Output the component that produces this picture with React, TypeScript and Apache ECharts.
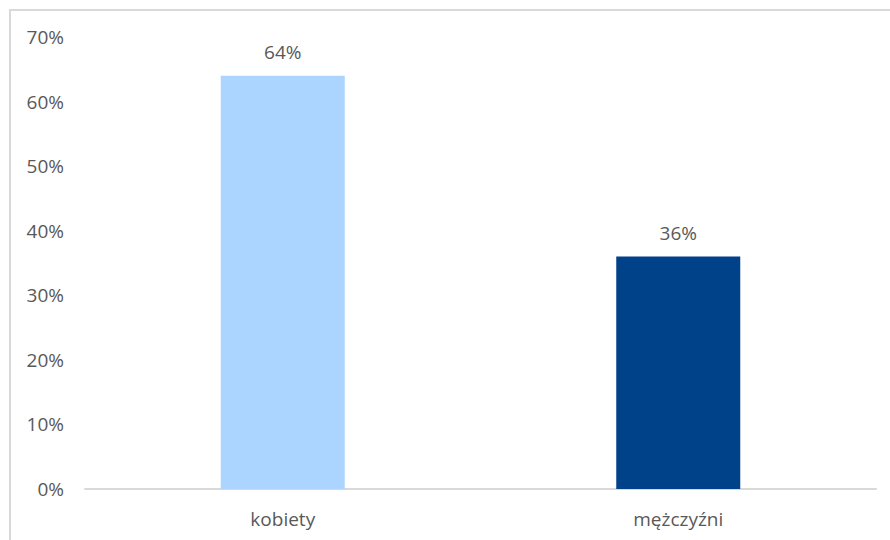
import React, { useEffect, useRef } from "react";
import * as echarts from "echarts";

const categories = ["kobiety", "mężczyźni"];
const values = [64, 36];
const barColors = ["#abd5fe", "#00428a"];
const yTicks = [0, 10, 20, 30, 40, 50, 60, 70];

export default function App() {
  const ref = useRef<HTMLDivElement>(null);
  useEffect(() => {
    const chart = echarts.init(ref.current!, null, { renderer: "svg" });
    const font = "'Open Sans', sans-serif";
    chart.setOption({
      animation: false,
      backgroundColor: "#ffffff",
      graphic: [
        {
          type: "rect",
          shape: { x: 10, y: 10, width: 900, height: 600 },
          style: { fill: "none", stroke: "#d9d9d9", lineWidth: 2 },
          silent: true,
        },
      ],
      grid: { left: 85, right: 14, top: 37, bottom: 51 },
      xAxis: {
        type: "category",
        data: categories,
        axisLine: { show: true, lineStyle: { color: "#d9d9d9", width: 2 } },
        axisTick: { show: false },
        axisLabel: { color: "#595959", fontSize: 19, fontFamily: font, margin: 20 },
      },
      yAxis: {
        type: "value",
        min: yTicks[0],
        max: yTicks[yTicks.length - 1],
        interval: 10,
        axisLine: { show: false },
        axisTick: { show: false },
        splitLine: { show: false },
        axisLabel: {
          color: "#595959",
          fontSize: 19,
          fontFamily: font,
          margin: 21,
          formatter: "{value}%",
        },
      },
      series: [
        {
          type: "bar",
          barWidth: 124,
          data: values.map((v, i) => ({ value: v, itemStyle: { color: barColors[i] } })),
          label: {
            show: true,
            position: "top",
            distance: 14,
            color: "#595959",
            fontSize: 19,
            fontFamily: font,
            formatter: "{c}%",
          },
        },
      ],
    });
    return () => chart.dispose();
  }, []);
  return <div ref={ref} style={{ width: 890, height: 540, position: "absolute", left: 0, top: 0 }} />;
}
